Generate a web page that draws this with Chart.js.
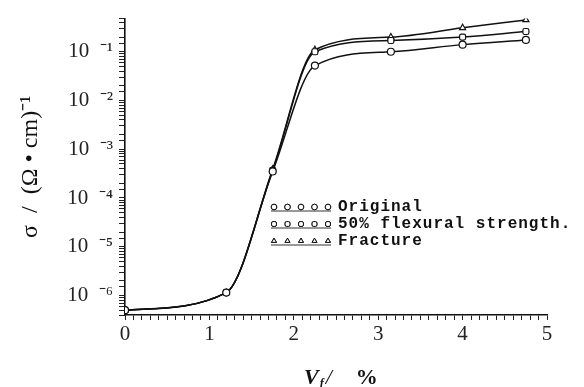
<!DOCTYPE html>
<html>
<head>
<meta charset="utf-8">
<script src="https://cdn.jsdelivr.net/npm/chart.js@4.4.1/dist/chart.umd.min.js"></script>
<style>
  html, body { margin: 0; padding: 0; background: #fff; }
  #wrap { width: 584px; height: 387px; }
</style>
</head>
<body>
<div id="wrap"><canvas id="c" width="584" height="387"></canvas></div>
<script>
// ---- data ----
const vf = [0, 1.2, 1.75, 2.25, 3.15, 4.0, 4.75];
const original   = [5e-7, 1.15e-6, 3.5e-4, 0.052, 0.100, 0.140, 0.175];
const flexural50 = [5e-7, 1.15e-6, 3.7e-4, 0.100, 0.170, 0.200, 0.260];
const fracture   = [5e-7, 1.15e-6, 3.9e-4, 0.110, 0.200, 0.310, 0.450];
const seriesNames = ['Original', '50% flexural strength.', 'Fracture'];
const xTickLabels = ['0', '1', '2', '3', '4', '5'];
const yDecades = [-6, -5, -4, -3, -2, -1];

const supMap = {'-': '\u207B', '0': '\u2070', '1': '\u00B9', '2': '\u00B2', '3': '\u00B3',
  '4': '\u2074', '5': '\u2075', '6': '\u2076', '7': '\u2077', '8': '\u2078', '9': '\u2079'};
const sup = s => String(s).split('').map(ch => supMap[ch] || ch).join('');

const pts = arr => vf.map((x, i) => ({x: x, y: arr[i]}));
const styles = ['circle', 'rectRounded', 'triangle'];
const mk = (label, arr, ps) => ({
  label: label, data: pts(arr), borderColor: '#111', borderWidth: 1.5,
  pointStyle: ps, pointRadius: 3.5, pointBorderWidth: 1.2,
  pointBackgroundColor: '#fff', pointBorderColor: '#111',
  cubicInterpolationMode: 'monotone', fill: false
});

const legendPlugin = {
  id: 'inlineLegend',
  afterDatasetsDraw(chart) {
    const ctx = chart.ctx;
    const x0 = 274, x1 = 328, ys = [207, 224, 241];
    ctx.save();
    seriesNames.forEach((name, i) => {
      const y = ys[i];
      ctx.strokeStyle = '#333'; ctx.lineWidth = 1;
      ctx.beginPath(); ctx.moveTo(x0 - 3, y + 4); ctx.lineTo(x1 + 3, y + 4); ctx.stroke();
      for (let k = 0; k < 5; k++) {
        const px = x0 + k * (x1 - x0) / 4;
        ctx.fillStyle = '#fff'; ctx.strokeStyle = '#111'; ctx.lineWidth = 1;
        Chart.helpers.drawPoint(ctx, {pointStyle: styles[i], radius: 2.8, borderWidth: 1}, px, y);
        ctx.fill(); ctx.stroke();
      }
      ctx.fillStyle = '#111';
      ctx.font = 'bold 16px "Liberation Mono", monospace';
      ctx.letterSpacing = '1px';
      ctx.textBaseline = 'middle';
      ctx.fillText(name, 338, y);
      ctx.letterSpacing = '0px';
    });
    ctx.restore();
  }
};

const xTitlePlugin = {
  id: 'xTitle',
  afterDraw(chart) {
    const ctx = chart.ctx;
    ctx.save();
    ctx.fillStyle = '#111';
    ctx.textBaseline = 'alphabetic';
    let x = 304, y = 384;
    ctx.font = 'italic bold 22px "Liberation Serif", serif';
    ctx.fillText('V', x, y); x += ctx.measureText('V').width + 1;
    ctx.font = 'italic bold 12px "Liberation Serif", serif';
    ctx.fillText('f', x, y + 3); x += ctx.measureText('f').width + 2;
    ctx.font = 'italic 22px "Liberation Serif", serif';
    ctx.fillText('/', x, y); x += ctx.measureText('/').width + 24;
    ctx.font = 'bold 22px "Liberation Serif", serif';
    ctx.fillText('%', x, y);
    ctx.restore();
  }
};

const tickFont = {family: '"Liberation Serif", serif', size: 21};

new Chart(document.getElementById('c'), {
  type: 'line',
  data: { datasets: [mk(seriesNames[0], original, styles[0]), mk(seriesNames[1], flexural50, styles[1]), mk(seriesNames[2], fracture, styles[2])] },
  options: {
    responsive: false, animation: false, devicePixelRatio: 1,
    layout: { padding: {top: 12, right: 37, left: 0, bottom: 0} },
    plugins: { legend: {display: false}, tooltip: {enabled: false} },
    scales: {
      x: {
        type: 'linear', min: 0, max: 5,
        afterFit(s) { s.height = 72; },
        border: {display: true, color: '#111', width: 1.6},
        grid: {drawOnChartArea: false, tickLength: 5, color: '#222', tickWidth: 1},
        ticks: {
          stepSize: 0.1, autoSkip: false, maxRotation: 0, color: '#222', font: tickFont, padding: 2,
          callback(v) { const r = Math.round(v); return Math.abs(v - r) < 1e-6 ? xTickLabels[r] : ''; }
        },
        title: {display: false}
      },
      y: {
        type: 'logarithmic', min: Math.pow(10, -6.4), max: Math.pow(10, -0.32),
        afterFit(s) { s.width = 125; },
        border: {display: true, color: '#111', width: 1.6},
        grid: {drawOnChartArea: false, tickLength: 6, color: '#222', tickWidth: 1},
        ticks: {
          autoSkip: false, color: '#222', font: tickFont, padding: 6,
          callback(v) {
            const e = Math.log10(v); const r = Math.round(e);
            return (Math.abs(e - r) < 1e-6 && yDecades.includes(r)) ? '10\u2002' + sup(r) : '';
          }
        },
        title: {
          display: true, text: '\u03C3  /  (\u03A9 \u2022 cm)' + sup(-1), color: '#111',
          font: {family: '"Liberation Serif", serif', size: 24}, padding: {top: 16, bottom: 0}
        }
      }
    }
  },
  plugins: [legendPlugin, xTitlePlugin]
});
</script>
</body>
</html>
